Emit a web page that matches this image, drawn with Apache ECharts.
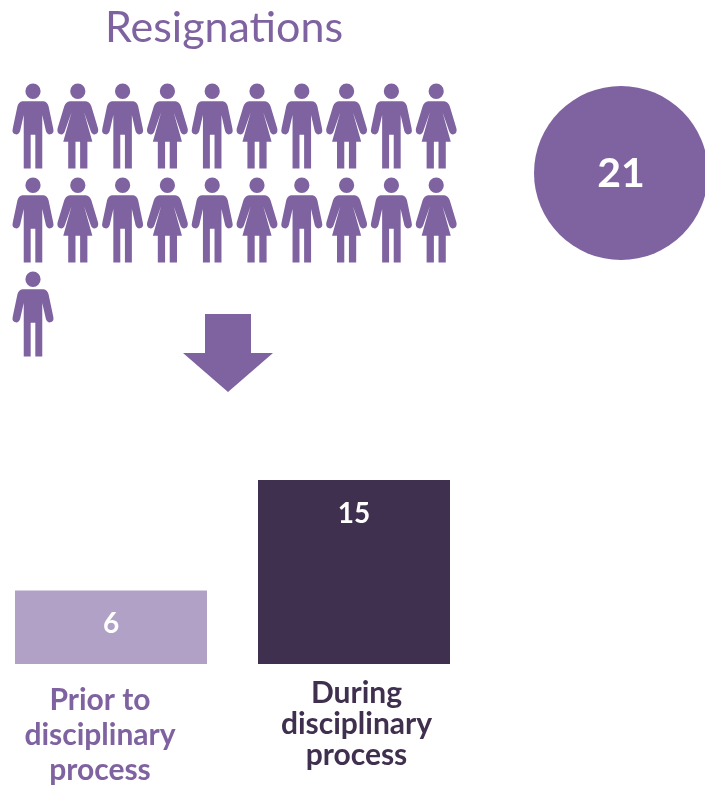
<!DOCTYPE html>
<html><head><meta charset="utf-8">
<style>html,body{margin:0;padding:0;background:#fff}#c{width:705px;height:786px}</style>
<script src="https://cdn.jsdelivr.net/npm/echarts@6/dist/echarts.min.js"></script>
</head><body><div id="c"></div>
<script>
const titleText = 'Resignations';
const totalResignations = 21;
const peoplePerRow = 10;
const categories = ['Prior to disciplinary process', 'During disciplinary process'];
const categoryLines = [['Prior to', 'disciplinary', 'process'], ['During', 'disciplinary', 'process']];
const values = [6, 15];

const PURPLE = '#7f63a1', LIGHT = '#b2a1c7', DARK = '#40304f';
const FONT = 'Lato';

const headMan = 'M77 65a23 23 0 1 0 46 0a23 23 0 1 0 -46 0Z';
const manPath = 'path://' + headMan +
  'M68 95L132 95Q143 96 147 110L161 176Q165 192 152 194Q143 195 139 184L128 136L128 296L107 296L107 195L93 195L93 296L72 296L72 136L61 184Q57 195 48 194Q35 192 39 176L53 110Q57 96 68 95Z';
const headWoman = 'M213 65a23 23 0 1 0 46 0a23 23 0 1 0 -46 0Z';
const womanPath = 'path://' + headWoman +
  'M212 95L260 95Q272 96 277 110L297 176Q301 190 289 194Q279 196 275 184L255 128L280 216L265 216L265 296L243 296L243 216L229 216L229 296L207 296L207 216L192 216L217 128L197 184Q193 196 183 194Q171 190 175 176L195 110Q200 96 212 95Z';

const men = [], women = [];
for (let i = 0; i < totalResignations; i++) {
  const point = [i % peoplePerRow, Math.floor(i / peoplePerRow)];
  (i % 2 === 0 ? men : women).push(point);
}

const chart = echarts.init(document.getElementById('c'), null, {renderer: 'canvas'});
const hiddenAxis = {show: false};
chart.setOption({
  animation: false,
  backgroundColor: '#fff',
  title: {
    text: titleText, left: 219, top: 2, textAlign: 'center',
    textStyle: {color: PURPLE, fontFamily: FONT, fontWeight: 400, fontSize: 43}
  },
  grid: [
    {left: 111, width: 243, top: 480, height: 184},
    {left: 10.6, width: 448, top: 79, height: 282},
    {left: 521, width: 100, top: 73, height: 200}
  ],
  xAxis: [
    {gridIndex: 0, type: 'category', data: categories, boundaryGap: false,
     axisLine: {show: false}, axisTick: {show: false},
     axisLabel: {
       interval: 0, margin: 14, showMinLabel: true, showMaxLabel: true,
       formatter: (v, i) => (i === 0 ? '{s| }\n' : '') + categoryLines[i].map(l => `{${i === 0 ? 'a' : 'b'}|${l}}`).join('\n'),
       rich: {
         s: {fontSize: 1, lineHeight: 5},
         a: {color: PURPLE, fontFamily: FONT, fontWeight: 700, fontSize: 30, lineHeight: 35, padding: [0, 22, 0, 0]},
         b: {color: DARK, fontFamily: FONT, fontWeight: 700, fontSize: 30, lineHeight: 31, padding: [0, 0, 0, 5]}
       }
     }},
    {gridIndex: 1, type: 'value', min: -0.5, max: 9.5, ...hiddenAxis},
    {gridIndex: 2, type: 'value', min: 0, max: 1, ...hiddenAxis}
  ],
  yAxis: [
    {gridIndex: 0, type: 'value', min: 0, max: 15, ...hiddenAxis},
    {gridIndex: 1, type: 'value', min: -0.5, max: 2.5, inverse: true, ...hiddenAxis},
    {gridIndex: 2, type: 'value', min: 0, max: 2, ...hiddenAxis}
  ],
  series: [
    {name: 'Resignations', type: 'bar', xAxisIndex: 0, yAxisIndex: 0, barWidth: 192, clip: false,
     data: values.map((v, i) => ({value: v, itemStyle: {color: i === 0 ? LIGHT : DARK}})),
     label: {show: true, position: 'insideTop', distance: 20, color: '#fff',
             fontFamily: FONT, fontWeight: 700, fontSize: 28}},
    {name: 'Men', type: 'scatter', xAxisIndex: 1, yAxisIndex: 1, data: men,
     symbol: manPath, symbolSize: [41, 85], symbolKeepAspect: false, itemStyle: {color: PURPLE, opacity: 1}},
    {name: 'Women', type: 'scatter', xAxisIndex: 1, yAxisIndex: 1, data: women,
     symbol: womanPath, symbolSize: [41, 85], symbolKeepAspect: false, itemStyle: {color: PURPLE, opacity: 1}},
    {name: 'Total', type: 'scatter', xAxisIndex: 2, yAxisIndex: 2, data: [[1, 1]],
     symbol: 'circle', symbolSize: 174, clip: false, itemStyle: {color: PURPLE, opacity: 1},
     label: {show: true, position: 'inside', offset: [0, 1], formatter: () => String(totalResignations),
             color: '#fff', fontFamily: FONT, fontWeight: 700, fontSize: 41}}
  ],
  graphic: [{
    type: 'polygon', silent: true,
    shape: {points: [[205, 314], [251, 314], [251, 353], [273, 353], [228, 392], [183, 353], [205, 353]]},
    style: {fill: PURPLE}
  }]
});
</script></body></html>
